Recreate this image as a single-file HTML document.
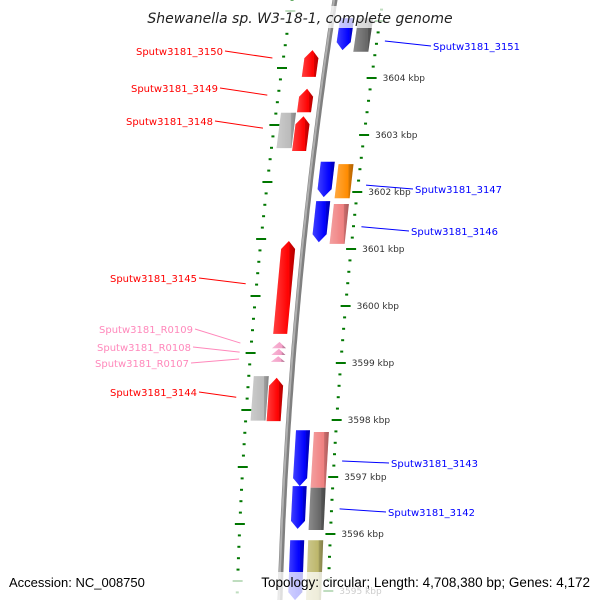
<!DOCTYPE html>
<html><head><meta charset="utf-8"><style>
html,body{margin:0;padding:0;background:#fff;}
svg{display:block;font-family:"DejaVu Sans","Liberation Sans",sans-serif;}
</style></head><body>
<svg id="map" width="600" height="600" viewBox="0 0 600 600">
<defs>
<linearGradient id="gshade" x1="0" x2="1" y1="0" y2="0">
<stop offset="0" stop-color="#fff" stop-opacity="0.25"/><stop offset="0.7" stop-color="#fff" stop-opacity="0"/><stop offset="0.75" stop-color="#000" stop-opacity="0.15"/><stop offset="1" stop-color="#000" stop-opacity="0.3"/>
</linearGradient>
</defs>
<g id="ticks"></g>
<path id="backbone" fill="none" stroke="#808080" stroke-width="5"/>
<path id="backbone2" fill="none" stroke="#b0b0b0" stroke-width="2"/>
<g id="genes"></g>
<g id="labels"></g>
<g id="ticklabels"></g>
<rect x="140" y="6" width="320" height="22" fill="#fff" fill-opacity="0.75"/>
<text x="300" y="23" text-anchor="middle" font-size="14" font-style="italic" fill="#222">Shewanella sp. W3-18-1, complete genome</text>
<rect x="4" y="572" width="592" height="28" fill="#fff" fill-opacity="0.75"/>
<text x="9" y="587" font-size="13" fill="#000" font-family="Liberation Sans, sans-serif">Accession: NC_008750</text>
<text x="590" y="587" text-anchor="end" font-size="13.5" fill="#000" font-family="Liberation Sans, sans-serif">Topology: circular; Length: 4,708,380 bp; Genes: 4,172</text>
</svg>
<script>
// data
const tickKbp = [3604, 3603, 3602, 3601, 3600, 3599, 3598, 3597, 3596, 3595];
const geneTrack = ['R1','R2','L1','L1','L2','L1','R1','R2','R1','R2','L1','L1','L1','L1','L2','L1','R1','R2','R1','R2','R1','R2'];
const geneStart = [3605.05,3605.05,3604.49,3603.81,3603.39,3603.33,3602.53,3602.49,3601.84,3601.79,3601.14,3599.37,3599.25,3599.12,3598.77,3598.74,3597.82,3597.79,3596.84,3596.81,3595.89,3595.89];
const geneEnd   = [3604.49,3604.46,3604.02,3603.40,3602.77,3602.72,3601.91,3601.89,3601.12,3601.09,3599.51,3599.26,3599.14,3599.02,3597.99,3597.98,3596.84,3596.81,3596.09,3596.07,3594.84,3594.84];
const geneColor = ['#0000ff','#666666','#ff0000','#ff0000','#bbbbbb','#ff0000','#0000ff','#ff8c00','#0000ff','#f08080','#ff0000','#f4a0c8','#f4a0c8','#f4a0c8','#bbbbbb','#ff0000','#0000ff','#f08080','#0000ff','#666666','#0000ff','#bdb76b'];
const geneArrow = ['down','none','up','up','none','up','down','none','down','none','up','up','up','up','none','up','down','none','down','none','down','none'];
const labelText = ['Sputw3181_3150','Sputw3181_3149','Sputw3181_3148','Sputw3181_3145','Sputw3181_R0109','Sputw3181_R0108','Sputw3181_R0107','Sputw3181_3144','Sputw3181_3151','Sputw3181_3147','Sputw3181_3146','Sputw3181_3143','Sputw3181_3142'];
const labelKbp = [3604.35,3603.70,3603.12,3600.39,3599.35,3599.19,3599.07,3598.40,3604.65,3602.12,3601.39,3597.28,3596.44];
const labelSide = ['L','L','L','L','L','L','L','L','R','R','R','R','R'];
const labelColor = ['#ff0000','#ff0000','#ff0000','#ff0000','#ff88bb','#ff88bb','#ff88bb','#ff0000','#0000ff','#0000ff','#0000ff','#0000ff','#0000ff'];
// label layout (text anchor positions)
const labelTextX = [223,218,213,197,193,191,189,197,433,415,411,391,388];
const labelTextY = [55,92,125,282,333,351,367,396,50,193,235,467,516];

const NS='http://www.w3.org/2000/svg';
function yOf(k){return 78+(3604-k)*57;}
function bx(y){return 335-0.154*y+0.000104*y*y;}
const trackOff={L2:[-38,-23],L1:[-22,-8],R1:[8,22],R2:[26,41]};
function mk(tag,attrs,parent){const e=document.createElementNS(NS,tag);for(const k in attrs)e.setAttribute(k,attrs[k]);parent.appendChild(e);return e;}

let d='';for(let y=-5;y<=605;y+=5){d+=(y===-5?'M':'L')+bx(y).toFixed(1)+','+y;}
document.getElementById('backbone').setAttribute('d',d);
let d2='';for(let y=-5;y<=605;y+=5){d2+=(y===-5?'M':'L')+(bx(y)-1).toFixed(1)+','+y;}
document.getElementById('backbone2').setAttribute('d',d2);

const tg=document.getElementById('ticks');
for(let k=3606;k>=3594;k-=0.2){
  const kr=Math.round(k*10)/10;
  const major=Math.abs(kr-Math.round(kr))<0.01;
  [[48,0],[-43,-10]].forEach(([off,dy])=>{
    const y=yOf(kr)+dy; if(y<-5||y>605)return;
    const x=bx(y)+off;
    const len=major?5:1.5;
    const t=mk('line',{x1:x-len,y1:y,x2:x+len,y2:y,stroke:'#007700','stroke-width':2},tg);
    
    
  });
}
const tl=document.getElementById('ticklabels');
tickKbp.forEach(k=>{
  const y=yOf(k);
  const t=mk('text',{x:bx(y)+59,y:y+3,'font-size':9,fill:'#333'},tl);
  t.textContent=k+' kbp';
  
  
});

const gg=document.getElementById('genes');
geneStart.forEach((s,i)=>{
  const y1=yOf(s),y2=yOf(geneEnd[i]);
  const [a,b]=trackOff[geneTrack[i]];
  const len=y2-y1;
  const h=len<10?len:Math.min(8,len*0.5);
  const m=(a+b)/2;
  let pts;
  if(geneArrow[i]==='up'){
    pts=[[bx(y2)+a,y2],[bx(y1+h)+a,y1+h],[bx(y1)+m,y1],[bx(y1+h)+b,y1+h],[bx(y2)+b,y2]];
  }else if(geneArrow[i]==='down'){
    pts=[[bx(y1)+a,y1],[bx(y1)+b,y1],[bx(y2-h)+b,y2-h],[bx(y2)+m,y2],[bx(y2-h)+a,y2-h]];
  }else{
    pts=[[bx(y1)+a,y1],[bx(y1)+b,y1],[bx(y2)+b,y2],[bx(y2)+a,y2]];
  }
  const p=pts.map(q=>q[0].toFixed(1)+','+q[1].toFixed(1)).join(' ');
  const g=mk('polygon',{points:p,fill:geneColor[i]},gg);
  
  
  const sh=mk('polygon',{points:p,fill:'url(#gshade)'},gg);
  
  
});

const lg=document.getElementById('labels');
labelText.forEach((txt,i)=>{
  const yk=yOf(labelKbp[i]);
  const tx=labelTextX[i], ty=labelTextY[i];
  let line,text;
  if(labelSide[i]==='L'){
    line=mk('line',{x1:tx+2,y1:ty-4,x2:bx(yk)-54,y2:yk,stroke:labelColor[i],'stroke-width':1},lg);
    text=mk('text',{x:tx,y:ty,'text-anchor':'end','font-size':10,fill:labelColor[i]},lg);
  }else{
    line=mk('line',{x1:bx(yk)+56,y1:yk,x2:tx-2,y2:ty-4,stroke:labelColor[i],'stroke-width':1},lg);
    text=mk('text',{x:tx,y:ty,'font-size':10,fill:labelColor[i]},lg);
  }
  
  
  text.textContent=txt;
  
  
});
</script>
</body></html>
